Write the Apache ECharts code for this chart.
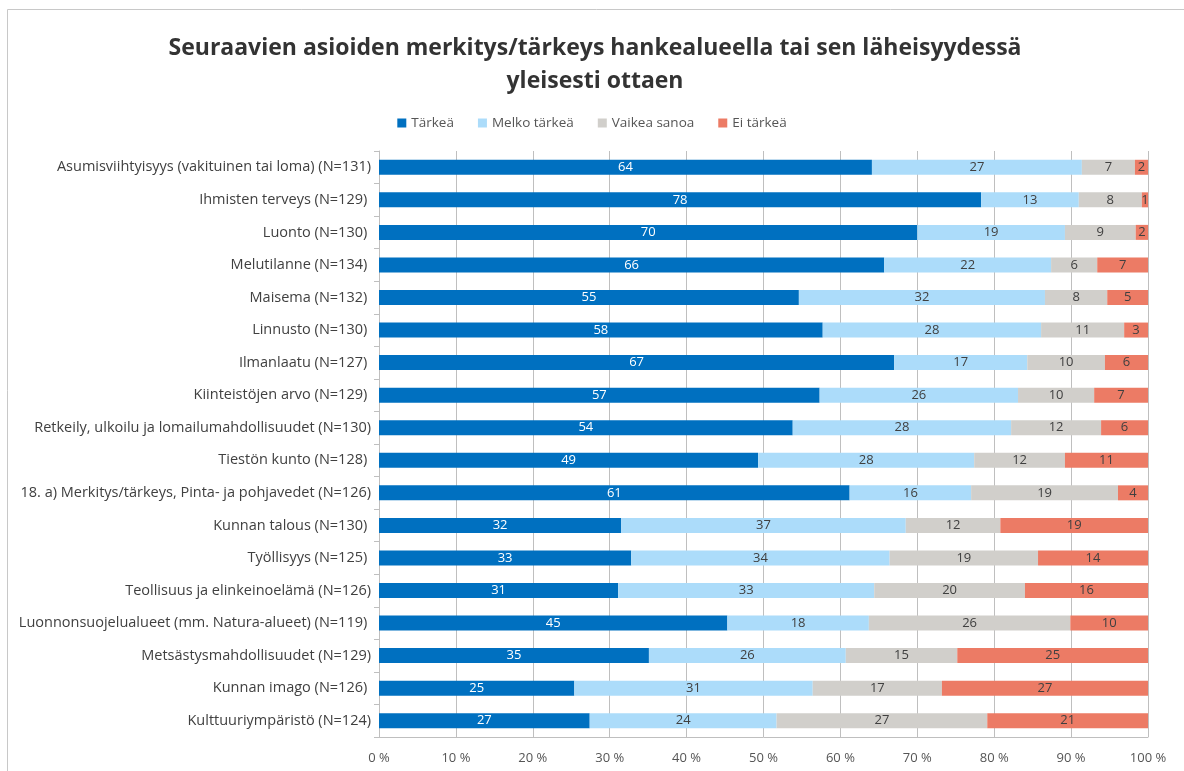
<!DOCTYPE html>
<html>
<head>
<meta charset="utf-8">
<script src="https://cdn.jsdelivr.net/npm/echarts@6/dist/echarts.min.js"></script>
<style>
  html, body { margin: 0; padding: 0; background: #fff; }
  #chart { width: 1184px; height: 771px; }
</style>
</head>
<body>
<div id="chart"></div>
<script>
// kategoriat (ylhäältä alas)
const categories = [
  'Asumisviihtyisyys (vakituinen tai loma) (N=131)',
  'Ihmisten terveys (N=129) ',
  'Luonto (N=130) ',
  'Melutilanne (N=134) ',
  'Maisema (N=132) ',
  'Linnusto (N=130) ',
  'Ilmanlaatu (N=127) ',
  'Kiinteistöjen arvo (N=129) ',
  'Retkeily, ulkoilu ja lomailumahdollisuudet (N=130)',
  'Tiestön kunto (N=128) ',
  '18. a) Merkitys/tärkeys, Pinta- ja pohjavedet (N=126)',
  'Kunnan talous (N=130) ',
  'Työllisyys (N=125) ',
  'Teollisuus ja elinkeinoelämä (N=126)',
  'Luonnonsuojelualueet (mm. Natura-alueet) (N=119) ',
  'Metsästysmahdollisuudet (N=129)',
  'Kunnan imago (N=126) ',
  'Kulttuuriympäristö (N=124)'
]

// osuudet prosentteina
const tarkea = [64.1, 78.3, 70.0, 65.7, 54.6, 57.7, 67.0, 57.3, 53.8, 49.3, 61.2, 31.5, 32.8, 31.1, 45.3, 35.1, 25.4, 27.4]
const melkoTarkea = [27.3, 12.7, 19.2, 21.7, 32.0, 28.4, 17.3, 25.8, 28.4, 28.1, 15.8, 37.0, 33.6, 33.3, 18.4, 25.6, 31.0, 24.3]
const vaikeaSanoa = [6.9, 8.2, 9.2, 6.0, 8.1, 10.8, 10.1, 9.9, 11.7, 11.8, 19.1, 12.3, 19.3, 19.6, 26.2, 14.5, 16.8, 27.4]
const eiTarkea = [1.7, 0.8, 1.6, 6.6, 5.3, 3.1, 5.6, 7.0, 6.1, 10.8, 3.9, 19.2, 14.3, 16.0, 10.1, 24.8, 26.8, 20.9]

const xTicks = [0, 10, 20, 30, 40, 50, 60, 70, 80, 90, 100]

const chart = echarts.init(document.getElementById('chart'))

const fontFamily = '"Open Sans", "Noto Sans", sans-serif'

function makeSeries(name, data, color, labelColor) {
  return {
    name: name,
    type: 'bar',
    stack: 'total',
    barWidth: 15,
    data: data,
    itemStyle: { color: color },
    label: {
      show: true,
      position: 'inside',
      color: labelColor,
      fontSize: 13,
      fontFamily: fontFamily,
      formatter: (p) => Math.round(p.value)
    }
  }
}

const option = {
  animation: false,
  backgroundColor: '#fff',
  textStyle: { fontFamily: fontFamily },
  graphic: [
    {
      type: 'rect',
      shape: { x: 7.5, y: 9.5, width: 1300, height: 900 },
      style: { fill: 'none', stroke: '#c8c8c8', lineWidth: 1 },
      silent: true
    }
  ],
  title: {
    text: 'Seuraavien asioiden merkitys/tärkeys hankealueella tai sen läheisyydessä\nyleisesti ottaen',
    left: 590,
    textAlign: 'center',
    top: 27,
    textStyle: {
      fontSize: 23,
      fontWeight: 'bold',
      color: '#333',
      lineHeight: 33,
      fontFamily: fontFamily
    }
  },
  legend: {
    top: 111,
    left: 'center',
    itemWidth: 9,
    itemHeight: 9,
    itemGap: 24,
    icon: 'rect',
    textStyle: { fontSize: 13.5, color: '#555', fontFamily: fontFamily },
    data: ['Tärkeä', 'Melko tärkeä', 'Vaikea sanoa', 'Ei tärkeä']
  },
  grid: {
    left: 379,
    right: 36,
    top: 151,
    height: 586,
    containLabel: false
  },
  xAxis: {
    type: 'value',
    min: 0,
    max: 100,
    interval: 10,
    axisLine: { show: true, lineStyle: { color: '#bfbfbf' } },
    axisTick: { show: false },
    splitLine: { show: true, lineStyle: { color: '#bfbfbf' } },
    axisLabel: {
      fontSize: 13,
      color: '#555',
      margin: 15,
      formatter: (v) => xTicks.includes(v) ? v + ' %' : ''
    }
  },
  yAxis: {
    type: 'category',
    inverse: true,
    data: categories,
    axisLine: { show: true, lineStyle: { color: '#bfbfbf' } },
    axisTick: { show: true, length: 5, lineStyle: { color: '#bfbfbf' } },
    axisLabel: {
      fontSize: 14.5,
      color: '#404040',
      margin: 8
    }
  },
  series: [
    makeSeries('Tärkeä', tarkea, '#0070c0', '#fff'),
    makeSeries('Melko tärkeä', melkoTarkea, '#acdcfa', '#404040'),
    makeSeries('Vaikea sanoa', vaikeaSanoa, '#d1cfcb', '#404040'),
    makeSeries('Ei tärkeä', eiTarkea, '#ec7b65', '#404040')
  ]
}

chart.setOption(option)
</script>
</body>
</html>
